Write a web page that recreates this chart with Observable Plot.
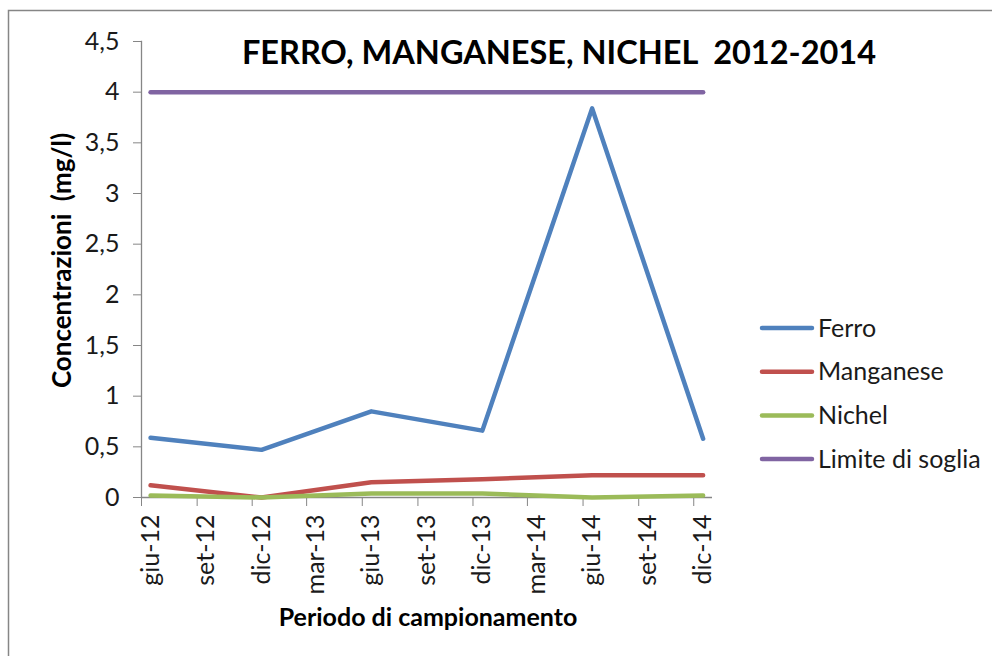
<!DOCTYPE html>
<html><head><meta charset="utf-8">
<script src="https://cdn.jsdelivr.net/npm/d3@7"></script>
<script src="https://cdn.jsdelivr.net/npm/@observablehq/plot@0.6"></script>
<style>
body{margin:0;background:#fff;}
#wrap{position:relative;width:992px;height:656px;overflow:hidden;}
</style></head><body><div id="wrap"></div>
<script>
// ---- data ----
const samplingMonths = ["2012-06","2012-12","2013-06","2013-12","2014-06","2014-12"];
const ferro        = [0.59, 0.47, 0.85, 0.66, 3.84, 0.58];
const manganese    = [0.12, 0.00, 0.15, 0.18, 0.22, 0.22];
const nichel       = [0.02, 0.00, 0.04, 0.04, 0.00, 0.02];
const limiteSoglia = [4, 4, 4, 4, 4, 4];
const seriesNames  = ["Ferro","Manganese","Nichel","Limite di soglia"];
const seriesColors = ["#4F81BD","#C0504D","#9BBB59","#8064A2"];
const tickMonths = ["2012-06","2012-09","2012-12","2013-03","2013-06","2013-09","2013-12","2014-03","2014-06","2014-09","2014-12"];
const tickLabels = ["giu-12","set-12","dic-12","mar-13","giu-13","set-13","dic-13","mar-14","giu-14","set-14","dic-14"];
const yTicks = [0,0.5,1,1.5,2,2.5,3,3.5,4,4.5];
const title = "FERRO, MANGANESE, NICHEL  2012-2014";
const yLabel = "Concentrazioni  (mg/l)";
const xLabel = "Periodo di campionamento";

// ---- helpers ----
const monthStart = m => new Date(m);
const monthMid = m => { const s = new Date(m); const e = d3.utcMonth.offset(s, 1); return new Date((+s + +e) / 2); };
const seriesValues = [ferro, manganese, nichel, limiteSoglia];
const rows = seriesNames.flatMap((name, k) =>
  samplingMonths.map((m, i) => ({series: name, date: monthMid(m), value: seriesValues[k][i]})));
const tickStarts = tickMonths.map(monthStart);
const tickMids = tickMonths.map(monthMid);
const labelOf = d => tickLabels[tickMids.findIndex(t => +t === +d)];

const FONT = "Lato, 'Open Sans', sans-serif";
const AXIS = "#868686";
const TXT = "#1a1a1a";
const TICK_FS = 25;

const chart = Plot.plot({
  width: 992, height: 656,
  marginLeft: 141, marginRight: 280, marginTop: 41, marginBottom: 159,
  style: {fontFamily: FONT, background: "transparent"},
  x: {type: "utc", domain: [new Date("2012-06"), new Date("2015-01")]},
  y: {domain: [0, 4.5]},
  color: {domain: seriesNames, range: seriesColors},
  marks: [
    Plot.axisY(yTicks, {tickSize: 8, tickPadding: 14, tickFormat: d => String(d).replace(".", ","),
      stroke: AXIS, fill: TXT, fontSize: TICK_FS, label: null}),
    Plot.axisX(tickStarts, {tickSize: 9, tickFormat: () => "", stroke: AXIS, label: null}),
    Plot.axisX(tickMids, {tickSize: 0, tickPadding: 17, tickRotate: -90, tickFormat: labelOf,
      fill: TXT, fontSize: TICK_FS, label: null}),
    Plot.frame({anchor: "left", stroke: AXIS, strokeWidth: 1.3}),
    Plot.ruleY([0], {stroke: AXIS, strokeWidth: 1.3}),
    Plot.line(rows, {x: "date", y: "value", z: "series", stroke: "series",
      strokeWidth: 4.5, strokeLinecap: "round", strokeLinejoin: "round"}),
    Plot.text([title], {frameAnchor: "top", dx: 132, dy: 12, lineAnchor: "middle",
      fontWeight: "bold", fontSize: 32.5, fill: "#000"}),
    Plot.text([yLabel], {frameAnchor: "left", textAnchor: "middle", lineAnchor: "middle", rotate: -90, dx: -79, dy: -9,
      fontWeight: "bold", fontSize: 26, fill: "#000"}),
    Plot.text([xLabel], {frameAnchor: "bottom", lineAnchor: "middle", dx: 1, dy: 120,
      fontWeight: "bold", fontSize: 25, fill: "#000"})
  ]
});

// legend
const svg = d3.select(chart);
const color = chart.scale("color");
const lg = svg.append("g").attr("font-family", FONT).attr("font-size", 25).attr("text-anchor", "start");
seriesNames.forEach((name, i) => {
  const y = 328 + i * 43.7;
  lg.append("line").attr("x1", 762).attr("x2", 812).attr("y1", y).attr("y2", y)
    .attr("stroke", color.apply(name)).attr("stroke-width", 4.5).attr("stroke-linecap", "round");
  lg.append("text").attr("x", 818).attr("y", y).attr("dy", "0.35em").attr("fill", TXT).text(name);
});
// outer chart border
svg.append("rect").attr("x", 8.5).attr("y", 10.5).attr("width", 1100).attr("height", 800)
  .attr("fill", "none").attr("stroke", AXIS).attr("stroke-width", 1.5);

document.getElementById("wrap").appendChild(chart);
</script></body></html>
